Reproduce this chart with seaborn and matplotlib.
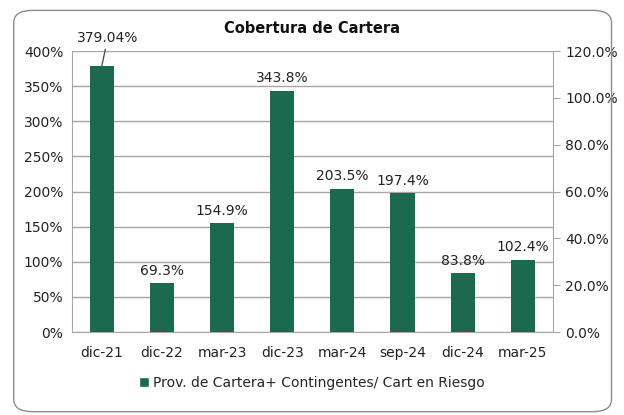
import pandas as pd
import seaborn as sns
import matplotlib.pyplot as plt
from matplotlib.patches import FancyBboxPatch, Patch
from matplotlib.ticker import FuncFormatter

# Data
periodos = ["dic-21", "dic-22", "mar-23", "dic-23", "mar-24", "sep-24", "dic-24", "mar-25"]
cobertura = [379.04, 69.3, 154.9, 343.8, 203.5, 197.4, 83.8, 102.4]
etiquetas = ["379.04%", "69.3%", "154.9%", "343.8%", "203.5%", "197.4%", "83.8%", "102.4%"]
serie = "Prov. de Cartera+ Contingentes/ Cart en Riesgo"

df = pd.DataFrame({"periodo": periodos, "valor": cobertura})

sns.set_style("white")
plt.rcParams["font.family"] = ["DejaVu Sans"]

verde = "#1b6a50"
gris = "#a6a6a6"

fig = plt.figure(figsize=(6.24, 4.15), dpi=100)
ax = fig.add_axes([0.115, 0.2, 0.771, 0.677])

sns.barplot(data=df, x="periodo", y="valor", color=verde, width=0.4,
            saturation=1, linewidth=0, ax=ax, zorder=3)

ax.set_ylim(0, 400)
ax.set_xlim(-0.5, len(periodos) - 0.5)
ax.set_yticks(range(0, 401, 50))
ax.yaxis.set_major_formatter(FuncFormatter(lambda v, p: f"{int(v)}%"))
ax.grid(axis="y", color=gris, linewidth=1, zorder=0)
ax.set_xlabel("")
ax.set_ylabel("")
ax.tick_params(axis="both", length=0, labelsize=10, colors="#222222", pad=6)
ax.tick_params(axis="x", pad=10)
for s in ["top", "right"]:
    ax.spines[s].set_visible(False)
ax.spines["left"].set_color(gris)
ax.spines["bottom"].set_color(gris)

# Right axis
ax2 = ax.twinx()
ax2.set_ylim(0, 1.2)
ax2.set_yticks([0, 0.2, 0.4, 0.6, 0.8, 1.0, 1.2])
ax2.yaxis.set_major_formatter(FuncFormatter(lambda v, p: f"{v*100:.1f}%"))
ax2.tick_params(axis="y", length=5, labelsize=10, pad=4, colors=gris,
                labelcolor="#222222")
for s in ["top", "left", "bottom"]:
    ax2.spines[s].set_visible(False)
ax2.spines["right"].set_color(gris)

# Labels
for i, (v, t) in enumerate(zip(cobertura, etiquetas)):
    if i == 0:
        ax.annotate(t, xy=(i, v), xytext=(i + 0.1, v + 30), ha="center",
                    va="bottom", fontsize=10, color="#222222",
                    arrowprops=dict(arrowstyle="-", color="#444444", lw=0.9,
                                    shrinkA=1, shrinkB=0))
    else:
        ax.text(i, v + 8, t, ha="center", va="bottom", fontsize=10, color="#222222")

fig.text(0.5, 0.932, "Cobertura de Cartera", ha="center", va="center",
         fontsize=10.5, fontweight="bold", color="#111111")

# Legend
fig.legend(handles=[Patch(facecolor=verde, label=serie)], loc="center",
           bbox_to_anchor=(0.5, 0.077), frameon=False, fontsize=10,
           handlelength=0.75, handleheight=0.75, handletextpad=0.3)

# Rounded border
borde = FancyBboxPatch((0.022, 0.008), 0.958, 0.967, transform=fig.transFigure,
                       boxstyle="round,pad=0,rounding_size=0.03",
                       facecolor="none", edgecolor="#8c8c8c", linewidth=1)
fig.patches.append(borde)

fig.savefig("out.png", dpi=100)
plt.close()
